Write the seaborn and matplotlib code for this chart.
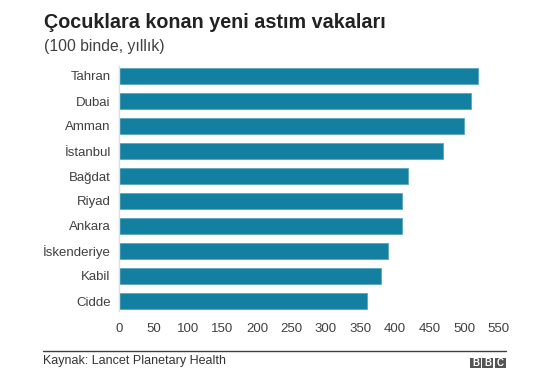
import matplotlib
matplotlib.use("Agg")
import matplotlib.pyplot as plt
from matplotlib.patches import Rectangle
from matplotlib.lines import Line2D
import seaborn as sns
import pandas as pd

cities = ["Tahran", "Dubai", "Amman", "İstanbul", "Bağdat", "Riyad", "Ankara",
          "İskenderiye", "Kabil", "Cidde"]
values = [520, 510, 500, 470, 419, 410, 410, 390, 380, 359]
xticks = [0, 50, 100, 150, 200, 250, 300, 350, 400, 450, 500, 550]

sns.set_theme(style="white")
plt.rcParams['font.family'] = ['Liberation Sans', 'DejaVu Sans']

W, H = 534, 386
fig = plt.figure(figsize=(W / 100, H / 100), dpi=100)
ax = fig.add_axes([119 / W, 1 - 313.5 / H, (498.5 - 119) / W, (313.5 - 63.5) / H])

df = pd.DataFrame({"city": cities, "value": values})
sns.barplot(data=df, x="value", y="city", ax=ax, color="#1380A1", saturation=1,
            width=0.64, edgecolor="#5aa6c0", linewidth=0.6)

ax.set_xlim(0, 550)
ax.set_xticks(xticks)
ax.set_xticklabels([str(t) for t in xticks], fontsize=9.5, color="#404040")
ax.tick_params(axis="y", labelsize=9.5, labelcolor="#404040", length=0, pad=6)
ax.tick_params(axis="x", length=0, pad=7)
ax.set_xlabel("")
ax.set_ylabel("")
for s in ["top", "right", "bottom"]:
    ax.spines[s].set_visible(False)
ax.spines["left"].set_color("#dddddd")
ax.spines["left"].set_linewidth(1)
ax.spines["left"].set_bounds(-0.4, 9.4)

fig.text(44 / W, 1 - 23 / H, "Çocuklara konan yeni astım vakaları", fontsize=14.2,
         fontweight="bold", color="#222222", va="center", ha="left")
fig.text(44 / W, 1 - 46.5 / H, "(100 binde, yıllık)", fontsize=11.3,
         color="#404040", va="center", ha="left")

fig.add_artist(Line2D([43 / W, 506 / W], [1 - 350.5 / H, 1 - 350.5 / H],
                      color="#404040", linewidth=1, transform=fig.transFigure))
fig.text(43 / W, 1 - 361 / H, "Kaynak: Lancet Planetary Health", fontsize=9,
         color="#333333", va="center", ha="left")

# BBC blocks
bx0 = 470
for i, letter in enumerate("BBC"):
    x = bx0 + i * 12.3
    fig.add_artist(Rectangle((x / W, 1 - 367.5 / H), 11 / W, 10 / H,
                             transform=fig.transFigure, facecolor="#555555",
                             edgecolor="none"))
    fig.text((x + 5.5) / W, 1 - 362.5 / H, letter, fontsize=7, fontweight="bold",
             color="white", ha="center", va="center")

fig.savefig("out.png", dpi=100)
